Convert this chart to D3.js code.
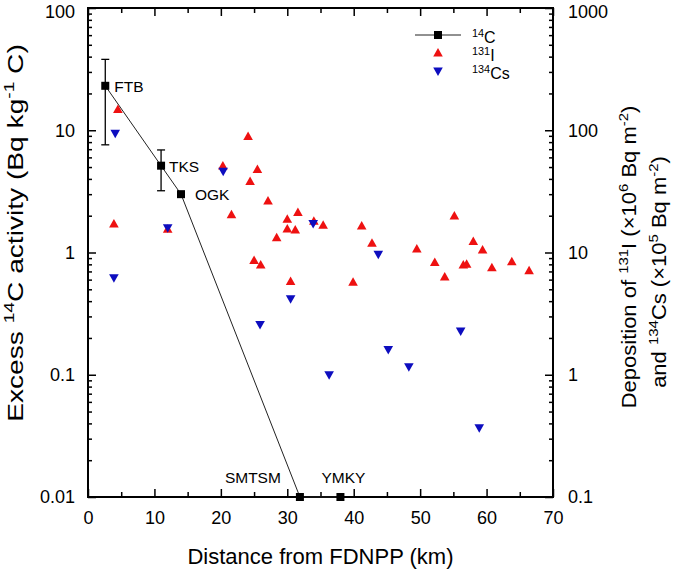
<!DOCTYPE html>
<html><head><meta charset="utf-8">
<script src="https://cdn.jsdelivr.net/npm/d3@7"></script>
<style>body{margin:0;background:#fff}svg{display:block}text{font-family:"Liberation Sans",Arial,sans-serif;fill:#000}</style>
</head><body><svg id="c" width="675" height="578"></svg>
<script>
// ---- data ----
const c14Sites = ["FTB","TKS","OGK","SMTSM","YMKY"];
const c14Dist = [2.6, 11.0, 14.0, 31.9, 38.0];
const c14Val = [23.1, 5.13, 3.0, 0.01, 0.01];
const c14Low = [7.6, 3.2, null, null, null];
const c14High = [38, 6.9, null, null, null];

const i131Dist = [4.5,3.9,12.0,20.3,24.1,25.5,24.4,21.6,27.1,31.6,30.0,34.0,35.4,30.0,31.2,28.4,25.0,26.0,30.5,39.9,41.2,42.75,49.5,55.15,52.2,53.7,56.5,57.0,58.0,59.4,60.8,63.8,66.4];
const i131Val  = [148,17.1,15.5,51,89,47.7,38,20.4,26.4,21.2,18.7,18.0,16.7,15.6,15.3,13.2,8.6,7.9,5.8,5.7,16.5,11.9,10.7,19.9,8.3,6.3,7.9,8.0,12.3,10.5,7.5,8.4,7.1];

const cs134Dist = [4.1,3.9,12.0,20.35,25.9,30.5,33.9,36.3,43.7,45.2,48.3,56.1,58.9];
const cs134Val  = [94.4,6.22,15.95,46.2,2.58,4.19,17.3,1.0,9.66,1.61,1.16,2.28,0.369];

const xTicks = [0,10,20,30,40,50,60,70];
const xMinor = [5,15,25,35,45,55,65];
const yLeftTicks = [0.01,0.1,1,10,100];
const yLeftLabels = ["0.01","0.1","1","10","100"];
const yRightTicks = [0.1,1,10,100,1000];
const yRightLabels = ["0.1","1","10","100","1000"];

// ---- layout ----
const L=88,R=553,T=8,B=497;
const svg=d3.select("#c");
const x=d3.scaleLinear().domain([0,70]).range([L,R]);
const yL=d3.scaleLog().domain([0.01,100]).range([B,T]);
const yR=d3.scaleLog().domain([0.1,1000]).range([B,T]);
const FS=18;

function minorLog(ticks){const m=[];for(let i=0;i<ticks.length-1;i++){for(let k=2;k<=9;k++)m.push(ticks[i]*k);}return m;}

function styleAxis(g){g.select(".domain").remove();g.selectAll("line").attr("stroke","#000").attr("stroke-width",1.5);g.selectAll("text").style("font-size",FS+"px").style("font-family","Liberation Sans, Arial, sans-serif");}
// keep the topmost label fully inside the picture
function nudgeTop(g){g.selectAll(".tick text").filter((d,i,n)=>i===n.length-1).attr("dy","0.5em");}

// bottom
svg.append("g").attr("transform",`translate(0,${B})`).call(d3.axisBottom(x).tickValues(xTicks).tickSize(-8).tickPadding(14).tickFormat(d3.format("d"))).call(styleAxis);
svg.append("g").attr("transform",`translate(0,${B})`).call(d3.axisBottom(x).tickValues(xMinor).tickSize(-5).tickFormat("")).call(styleAxis);
// top
svg.append("g").attr("transform",`translate(0,${T})`).call(d3.axisTop(x).tickValues(xTicks).tickSize(-8).tickFormat("")).call(styleAxis);
svg.append("g").attr("transform",`translate(0,${T})`).call(d3.axisTop(x).tickValues(xMinor).tickSize(-5).tickFormat("")).call(styleAxis);
// left
svg.append("g").attr("transform",`translate(${L},0)`).call(d3.axisLeft(yL).tickValues(yLeftTicks).tickSize(-8).tickPadding(13).tickFormat((d,i)=>yLeftLabels[i])).call(styleAxis).call(nudgeTop);
svg.append("g").attr("transform",`translate(${L},0)`).call(d3.axisLeft(yL).tickValues(minorLog(yLeftTicks)).tickSize(-4).tickFormat("")).call(styleAxis);
// right
svg.append("g").attr("transform",`translate(${R},0)`).call(d3.axisRight(yR).tickValues(yRightTicks).tickSize(-8).tickPadding(15).tickFormat((d,i)=>yRightLabels[i])).call(styleAxis).call(nudgeTop);
svg.append("g").attr("transform",`translate(${R},0)`).call(d3.axisRight(yR).tickValues(minorLog(yRightTicks)).tickSize(-4).tickFormat("")).call(styleAxis);

svg.append("rect").attr("x",L).attr("y",T).attr("width",R-L).attr("height",B-T).attr("fill","none").attr("stroke","#000").attr("stroke-width",2);

// rich text helper
function rich(g,parts,size){
  const t=g.append("text").style("font-size",size+"px");
  let sup=false;
  parts.forEach(p=>{
    const ts=t.append("tspan").text(p.t);
    if(p.s && !sup){ts.attr("dy",-size*0.4).style("font-size",(size*0.68)+"px");sup=true;}
    else if(p.s){ts.style("font-size",(size*0.68)+"px");}
    else if(sup){ts.attr("dy",size*0.4);sup=false;}
  });
  return t;
}

// axis titles
rich(svg.append("g").attr("transform","translate(23,233) rotate(-90) scale(1.28,1)"),
  [{t:"Excess "},{t:"14",s:1},{t:"C activity (Bq kg"},{t:"-1",s:1},{t:" C)"}],22).attr("text-anchor","middle");
rich(svg.append("g").attr("transform","translate(636,257) rotate(-90) scale(1.1,1)"),
  [{t:"Deposition of "},{t:"131",s:1},{t:"I (×10"},{t:"6",s:1},{t:" Bq m"},{t:"-2",s:1},{t:")"}],20).attr("text-anchor","middle");
rich(svg.append("g").attr("transform","translate(666,272) rotate(-90) scale(1.1,1)"),
  [{t:"and "},{t:"134",s:1},{t:"Cs (×10"},{t:"5",s:1},{t:" Bq m"},{t:"-2",s:1},{t:")"}],20).attr("text-anchor","middle");
svg.append("text").attr("x",(L+R)/2).attr("y",564).attr("text-anchor","middle").style("font-size","22px").text("Distance from FDNPP (km)");

// 14C line
const line=d3.line().x((d,i)=>x(c14Dist[i])).y((d,i)=>yL(c14Val[i]));
svg.append("path").datum(c14Val).attr("d",line).attr("fill","none").attr("stroke","#222").attr("stroke-width",1);

// error bars
c14Dist.forEach((d,i)=>{
  if(c14Low[i]==null)return;
  const g=svg.append("g").attr("stroke","#000").attr("stroke-width",1.3);
  g.append("line").attr("x1",x(d)).attr("x2",x(d)).attr("y1",yL(c14Low[i])).attr("y2",yL(c14High[i]));
  [c14Low[i],c14High[i]].forEach(v=>g.append("line").attr("x1",x(d)-4).attr("x2",x(d)+4).attr("y1",yL(v)).attr("y2",yL(v)));
});

const up="M0,-5 L4.8,3.5 L-4.8,3.5 Z";
const down="M0,5 L4.8,-3.5 L-4.8,-3.5 Z";
const RED="#ee1111", BLUE="#0d0dbf";

svg.append("g").selectAll("path").data(i131Val).join("path")
  .attr("d",up).attr("fill",RED)
  .attr("transform",(d,i)=>`translate(${x(i131Dist[i])},${yR(d)})`);
svg.append("g").selectAll("path").data(cs134Val).join("path")
  .attr("d",down).attr("fill",BLUE)
  .attr("transform",(d,i)=>`translate(${x(cs134Dist[i])},${yR(d)})`);

// squares
svg.append("g").selectAll("rect").data(c14Val).join("rect")
  .attr("x",(d,i)=>x(c14Dist[i])-4).attr("y",d=>yL(d)-4).attr("width",8).attr("height",8).attr("fill","#000");

// site labels
const labOff=[[9,6],[8,6],[14,6],[-75,-14],[-19,-14]];
c14Sites.forEach((s,i)=>{
  svg.append("text").attr("x",x(c14Dist[i])+labOff[i][0]).attr("y",yL(c14Val[i])+labOff[i][1]).style("font-size","15.5px").text(s);
});

// legend
const lx=438;
svg.append("line").attr("x1",lx-23).attr("x2",lx+23).attr("y1",35).attr("y2",35).attr("stroke","#222").attr("stroke-width",1);
svg.append("rect").attr("x",lx-4).attr("y",31).attr("width",8).attr("height",8).attr("fill","#000");
svg.append("path").attr("d",up).attr("fill",RED).attr("transform",`translate(${lx},53)`);
svg.append("path").attr("d",down).attr("fill",BLUE).attr("transform",`translate(${lx},71)`);
rich(svg.append("g").attr("transform","translate(472,43)"),[{t:"14",s:1},{t:"C"}],16);
rich(svg.append("g").attr("transform","translate(472,61)"),[{t:"131",s:1},{t:"I"}],16);
rich(svg.append("g").attr("transform","translate(472,79)"),[{t:"134",s:1},{t:"Cs"}],16);
</script></body></html>
